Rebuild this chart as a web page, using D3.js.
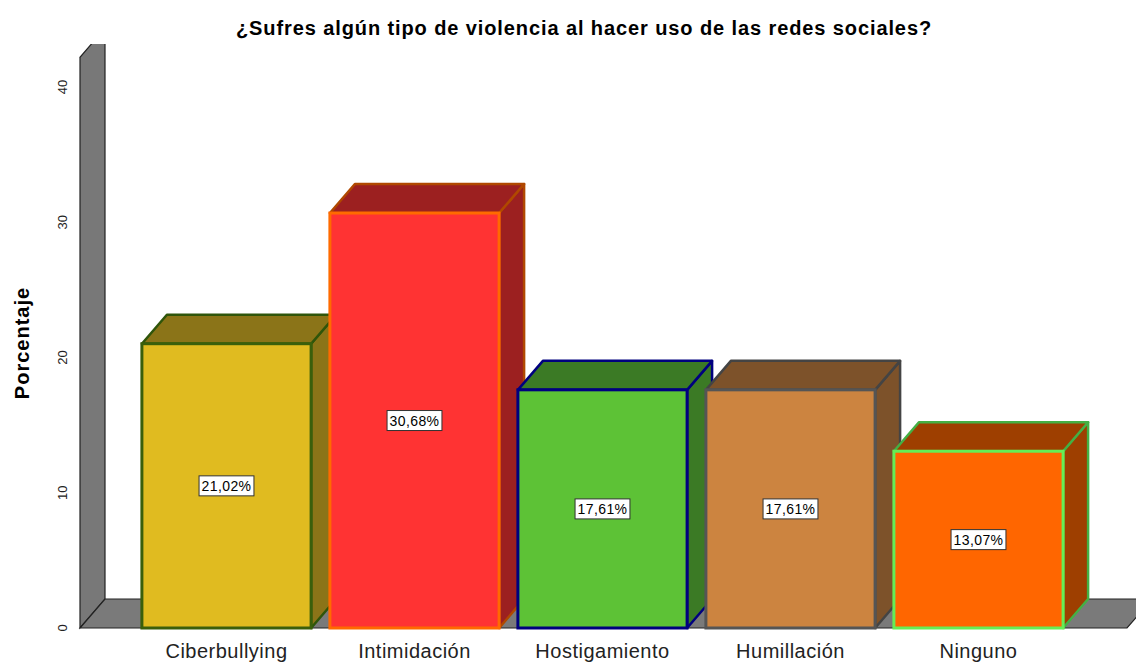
<!DOCTYPE html>
<html>
<head>
<meta charset="utf-8">
<script src="https://cdn.jsdelivr.net/npm/d3@7"></script>
<style>
  body { margin: 0; background: #fff; }
  svg { display: block; font-family: "Liberation Sans", Arial, sans-serif; }
</style>
</head>
<body>
<svg id="chart" width="1136" height="662"></svg>
<script>
const categories = ["Ciberbullying", "Intimidación", "Hostigamiento", "Humillación", "Ninguno"];
const values = [21.02, 30.68, 17.61, 17.61, 13.07];
const valueLabels = ["21,02%", "30,68%", "17,61%", "17,61%", "13,07%"];
const yTicks = [0, 10, 20, 30, 40];

const frontColors = ["#e0bb20", "#ff3333", "#5dc236", "#cc8440", "#ff6600"];
const sideColors = ["#8b7418", "#9c2020", "#3b7a25", "#7d522a", "#9e3f00"];
const strokeColors = ["#3a5f0b", "#ff6a00", "#00007f", "#555555", "#66ee55"];
const sideStrokes = ["#2f550a", "#b04800", "#00007f", "#444444", "#44b044"];

const depth = { dx: 25, dy: -29 };

const svg = d3.select("#chart");

const y = d3.scaleLinear().domain([0, 40]).range([628, 87]);
const x = d3.scaleBand()
  .domain(categories)
  .range([132.5, 1072.5])
  .paddingInner(0.1)
  .paddingOuter(0.05);

// clip for the plot region (wall top is cut off)
svg.append("clipPath").attr("id", "plotClip")
  .append("rect").attr("x", 0).attr("y", 44).attr("width", 1136).attr("height", 620);

const line = d3.line();

// side wall
const wallX = 80;
const wallTop = y(42.2);
svg.append("path")
  .attr("clip-path", "url(#plotClip)")
  .attr("d", line([[wallX, y(0)], [wallX, wallTop], [wallX + depth.dx, wallTop + depth.dy], [wallX + depth.dx, y(0) + depth.dy]]) + "Z")
  .attr("fill", "#787878")
  .attr("stroke", "#222")
  .attr("stroke-width", 1.2);

// floor
const floorRight = 1127;
svg.append("path")
  .attr("d", line([[wallX, y(0)], [floorRight, y(0)], [floorRight + depth.dx, y(0) + depth.dy], [wallX + depth.dx, y(0) + depth.dy]]) + "Z")
  .attr("fill", "#7a7a7a")
  .attr("stroke", "#222")
  .attr("stroke-width", 1.2);

// bars
const bars = svg.append("g");
categories.forEach((c, i) => {
  const x0 = x(c);
  const x1 = x0 + x.bandwidth();
  const y0 = y(0);
  const y1 = y(values[i]);
  const g = bars.append("g");

  // side face
  g.append("path")
    .attr("d", line([[x1, y0], [x1, y1], [x1 + depth.dx, y1 + depth.dy], [x1 + depth.dx, y0 + depth.dy]]) + "Z")
    .attr("fill", sideColors[i])
    .attr("stroke", sideStrokes[i])
    .attr("stroke-width", 2.5)
    .attr("stroke-linejoin", "round");

  // top face
  g.append("path")
    .attr("d", line([[x0, y1], [x1, y1], [x1 + depth.dx, y1 + depth.dy], [x0 + depth.dx, y1 + depth.dy]]) + "Z")
    .attr("fill", sideColors[i])
    .attr("stroke", sideStrokes[i])
    .attr("stroke-width", 2.5)
    .attr("stroke-linejoin", "round");

  // front face
  g.append("rect")
    .attr("x", x0)
    .attr("y", y1)
    .attr("width", x.bandwidth())
    .attr("height", y0 - y1)
    .attr("fill", frontColors[i])
    .attr("stroke", strokeColors[i])
    .attr("stroke-width", 3);

  // value label
  const cx = x0 + x.bandwidth() / 2;
  const cy = y(values[i] / 2);
  const t = g.append("text")
    .attr("x", cx)
    .attr("y", cy + 5)
    .attr("text-anchor", "middle")
    .attr("font-size", 14)
    .attr("letter-spacing", 0.4)
    .attr("fill", "#000")
    .text(valueLabels[i]);
  const bb = t.node().getBBox();
  g.insert("rect", "text")
    .attr("x", bb.x - 2.5)
    .attr("y", cy - 10)
    .attr("width", bb.width + 5)
    .attr("height", 20)
    .attr("fill", "#fff")
    .attr("stroke", "#333")
    .attr("stroke-width", 1);

  // category label
  svg.append("text")
    .attr("x", cx)
    .attr("y", 658)
    .attr("text-anchor", "middle")
    .attr("font-size", 20)
    .attr("letter-spacing", 0.5)
    .attr("fill", "#222")
    .text(c);
});

// y tick labels (rotated)
svg.append("g").selectAll("text")
  .data(yTicks)
  .enter()
  .append("text")
  .attr("transform", (d) => `translate(67,${y(d)}) rotate(-90)`)
  .attr("text-anchor", "middle")
  .attr("font-size", 13)
  .attr("fill", "#222")
  .text((d) => d);

// axis title
svg.append("text")
  .attr("transform", `translate(29,343) rotate(-90)`)
  .attr("text-anchor", "middle")
  .attr("font-size", 20)
  .attr("letter-spacing", 1)
  .attr("font-weight", "bold")
  .attr("fill", "#000")
  .text("Porcentaje");

// chart title
svg.append("text")
  .attr("x", 584)
  .attr("y", 35)
  .attr("text-anchor", "middle")
  .attr("font-size", 20)
  .attr("letter-spacing", 0.9)
  .attr("font-weight", "bold")
  .attr("fill", "#000")
  .text("¿Sufres algún tipo de violencia al hacer uso de las redes sociales?");
</script>
</body>
</html>
